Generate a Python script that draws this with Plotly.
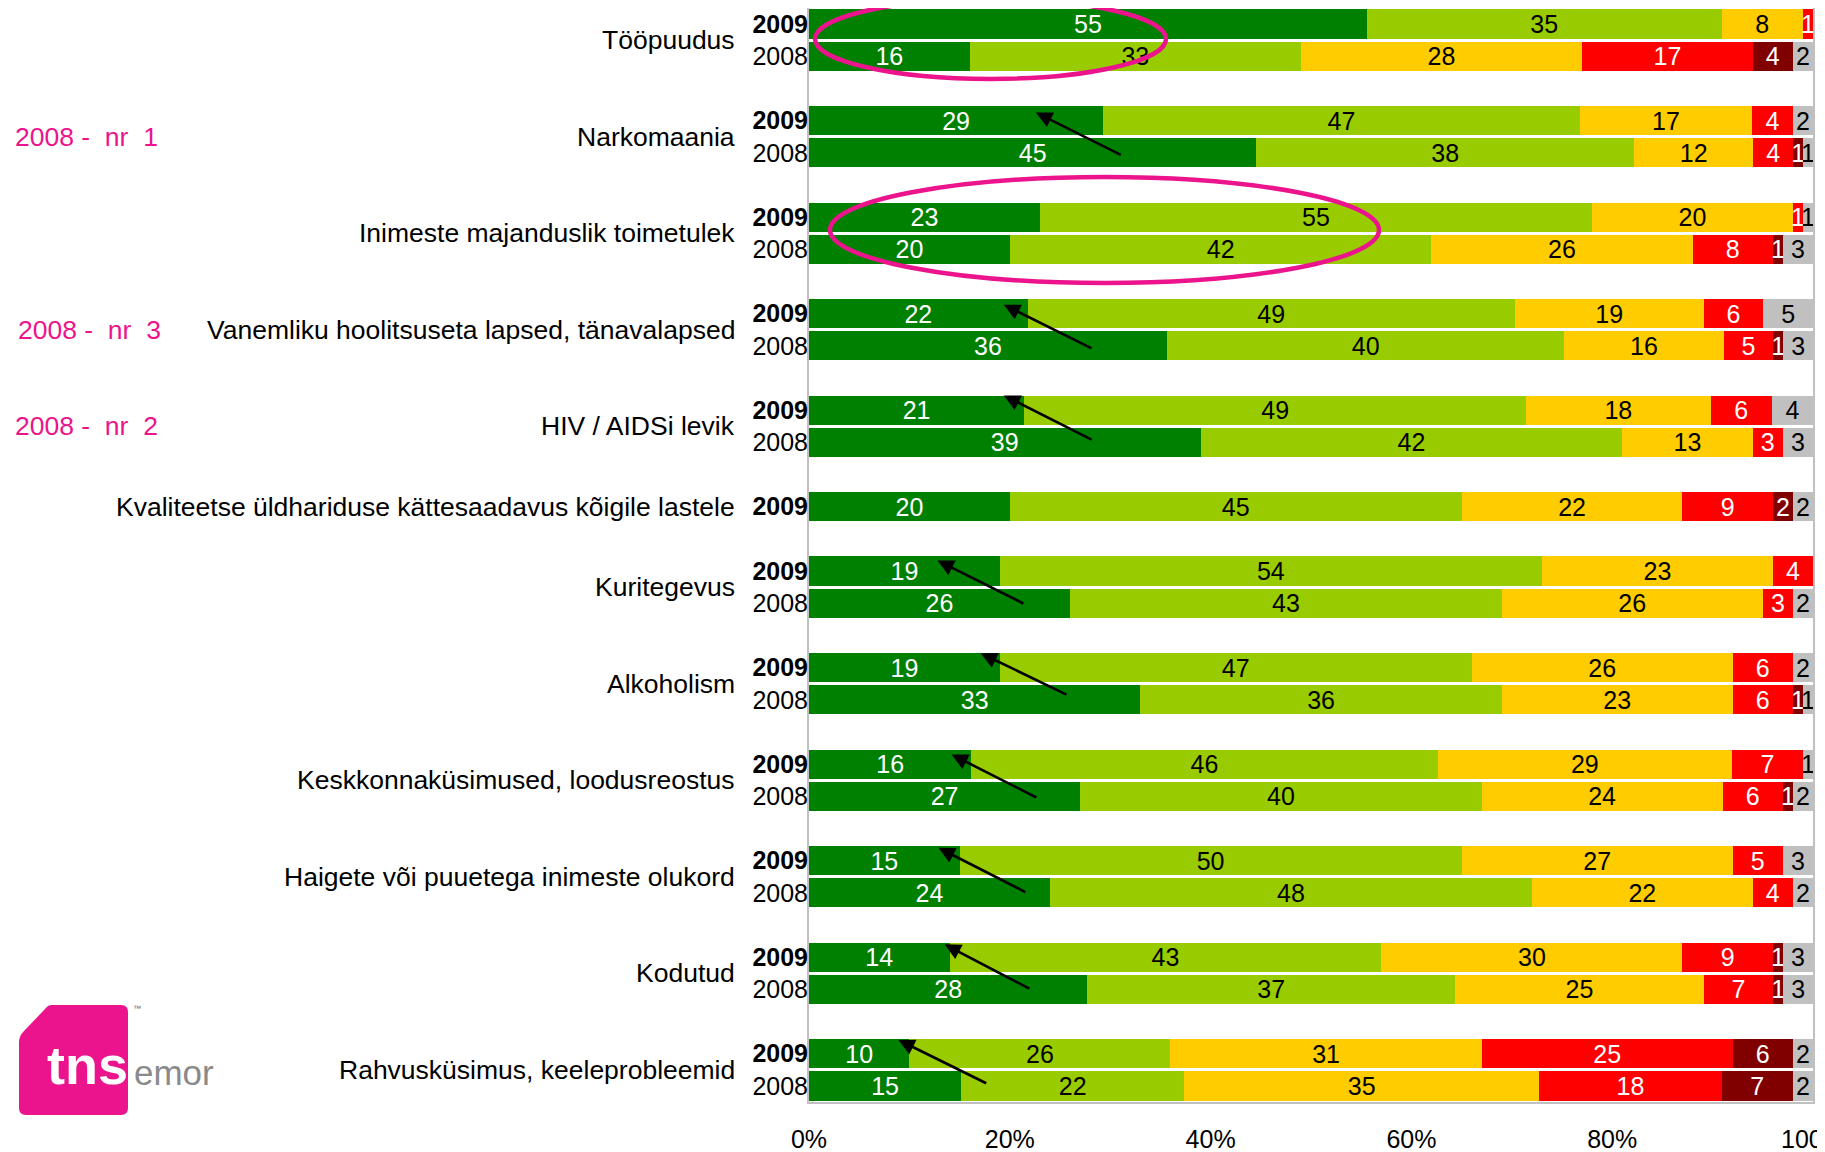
import plotly.graph_objects as go

# ---------------- data ----------------
categories = [
    "Tööpuudus",
    "Narkomaania",
    "Inimeste majanduslik toimetulek",
    "Vanemliku hoolitsuseta lapsed, tänavalapsed",
    "HIV / AIDSi levik",
    "Kvaliteetse üldhariduse kättesaadavus kõigile lastele",
    "Kuritegevus",
    "Alkoholism",
    "Keskkonnaküsimused, loodusreostus",
    "Haigete või puuetega inimeste olukord",
    "Kodutud",
    "Rahvusküsimus, keeleprobleemid",
]
years = [
    ["2009", "2008"], ["2009", "2008"], ["2009", "2008"], ["2009", "2008"],
    ["2009", "2008"], ["2009"], ["2009", "2008"], ["2009", "2008"],
    ["2009", "2008"], ["2009", "2008"], ["2009", "2008"], ["2009", "2008"],
]
# one value per bar, bars in top-to-bottom order
dark_green = [55, 16, 29, 45, 23, 20, 22, 36, 21, 39, 20, 19, 26, 19, 33, 16, 27, 15, 24, 14, 28, 10, 15]
light_green = [35, 33, 47, 38, 55, 42, 49, 40, 49, 42, 45, 54, 43, 47, 36, 46, 40, 50, 48, 43, 37, 26, 22]
yellow = [8, 28, 17, 12, 20, 26, 19, 16, 18, 13, 22, 23, 26, 26, 23, 29, 24, 27, 22, 30, 25, 31, 35]
red = [1, 17, 4, 4, 1, 8, 6, 5, 6, 3, 9, 4, 3, 6, 6, 7, 6, 5, 4, 9, 7, 25, 18]
dark_red = [0, 4, 0, 1, 0, 1, 0, 1, 0, 0, 2, 0, 0, 0, 1, 0, 1, 0, 0, 1, 1, 6, 7]
grey = [0, 2, 2, 1, 1, 3, 5, 3, 4, 3, 2, 0, 2, 2, 1, 1, 2, 3, 2, 3, 3, 2, 2]

tick_vals_x = [0, 20, 40, 60, 80, 100]
tick_text_x = ["0%", "20%", "40%", "60%", "80%", "100%"]

pink_notes = [(1, "2008 -  nr  1", 15), (3, "2008 -  nr  3", 18), (4, "2008 -  nr  2", 15)]

# arrows: (x_head %, row offset head from 2009 bar, x_tail %, row offset tail from 2008 bar), by category index
arrows = {
    1: (22.6, -0.25, 31.2, 0.09),
    3: (19.4, -0.28, 28.3, 0.10),
    4: (19.4, -0.46, 28.3, -0.06),
    6: (12.8, -0.33, 21.5, 0.03),
    7: (17.1, -0.45, 25.8, -0.14),
    8: (14.2, -0.30, 22.8, 0.06),
    9: (12.9, -0.40, 21.7, 0.00),
    10: (13.5, -0.40, 22.1, 0.00),
    11: (8.9, -0.43, 17.8, -0.06),
}

# ---------------- layout helpers ----------------
OFF = 8                      # page body margin
W, H = 1825 - OFF, 1152 - OFF
ML, MR, MT, MB = 809 - OFF, 12, 0, 50
PW, PH = W - ML - MR, H - MT - MB


def px(x):   # page pixel -> paper
    return (x - OFF - ML) / PW


def py(y):
    return 1 - (y - OFF - MT) / PH


rows, row_text, group_rows = [], [], []
r = 0
for cat, ys in zip(categories, years):
    g = []
    for yv in ys:
        rows.append(r)
        row_text.append("<b>2009</b>" if yv == "2009" else yv)
        g.append(r)
        r += 1
    group_rows.append(g)
    r += 1
last_row = rows[-1]

FONT = "Liberation Sans, Arial, sans-serif"
PINK = "#EC148C"

series = [
    (dark_green, "#008000", "white"),
    (light_green, "#99CC00", "black"),
    (yellow, "#FFCC00", "black"),
    (red, "#FF0000", "white"),
    (dark_red, "#800000", "white"),
    (grey, "#C0C0C0", "black"),
]

fig = go.Figure()
for vals, col, tcol in series:
    fig.add_trace(go.Bar(
        x=vals, y=rows, orientation="h",
        marker=dict(color=col, line=dict(width=0)),
        text=[str(v) if v else "" for v in vals],
        textposition="inside", insidetextanchor="middle", textangle=0,
        textfont=dict(color=tcol, size=25, family=FONT),
        hoverinfo="skip", showlegend=False,
    ))

annotations = []
for cat, g in zip(categories, group_rows):
    annotations.append(dict(
        text=cat, xref="paper", yref="y", x=px(737), y=sum(g) / len(g),
        xanchor="right", yanchor="middle", showarrow=False,
        font=dict(family=FONT, size=26.5, color="black")))

for ci, txt, xpx in pink_notes:
    g = group_rows[ci]
    annotations.append(dict(
        text=txt.replace(" ", "\u00a0"), xref="paper", yref="y", x=px(xpx - 2), y=sum(g) / len(g),
        xanchor="left", yanchor="middle", showarrow=False,
        font=dict(family=FONT, size=26.5, color=PINK)))

for ci, (xh, dh, xt, dt) in arrows.items():
    g = group_rows[ci]
    annotations.append(dict(
        text="", xref="x", yref="y", axref="x", ayref="y",
        x=xh, y=g[0] + dh, ax=xt, ay=g[1] + dt,
        showarrow=True, arrowhead=2, arrowsize=1.25, arrowwidth=2.6, arrowcolor="black"))

# logo
annotations.append(dict(text="<b>tns</b>", xref="paper", yref="paper", x=px(45), y=py(1065),
                        xanchor="left", yanchor="middle", showarrow=False,
                        font=dict(family=FONT, size=54, color="white")))
annotations.append(dict(text="emor", xref="paper", yref="paper", x=px(132), y=py(1072),
                        xanchor="left", yanchor="middle", showarrow=False,
                        font=dict(family=FONT, size=35, color="#8a8a8a")))
annotations.append(dict(text="™", xref="paper", yref="paper", x=px(131), y=py(1008),
                        xanchor="left", yanchor="middle", showarrow=False,
                        font=dict(family=FONT, size=8, color="#666")))


def path(points):
    s = ""
    for cmd, *coords in points:
        pts = " ".join(f"{px(coords[j]):.5f},{py(coords[j + 1]):.5f}" for j in range(0, len(coords), 2))
        s += f"{cmd} {pts} "
    return s + "Z"


logo_path = path([
    ("M", 52, 1005), ("L", 121, 1005), ("Q", 128, 1005, 128, 1012),
    ("L", 128, 1108), ("Q", 128, 1115, 121, 1115), ("L", 26, 1115),
    ("Q", 19, 1115, 19, 1108), ("L", 19, 1042), ("Q", 19, 1036, 24, 1031),
    ("L", 45, 1009), ("Q", 48, 1005, 52, 1005),
])

shapes = [
    dict(type="path", path=logo_path, xref="paper", yref="paper",
         fillcolor=PINK, line=dict(width=0), layer="below"),
    dict(type="circle", xref="paper", yref="paper",
         x0=px(815), x1=px(1166), y0=py(-1), y1=py(79),
         line=dict(color=PINK, width=4.5), layer="above"),
    dict(type="circle", xref="paper", yref="paper",
         x0=px(830), x1=px(1379), y0=py(177), y1=py(283),
         line=dict(color=PINK, width=4.5), layer="above"),
]

fig.update_layout(
    width=W, height=H,
    margin=dict(l=ML, r=MR, t=MT, b=MB, pad=0, autoexpand=False),
    barmode="stack", barnorm="percent", bargap=0.09,
    plot_bgcolor="white", paper_bgcolor="white",
    font=dict(family=FONT, size=25, color="black"),
    annotations=annotations, shapes=shapes,
    xaxis=dict(range=[0, 100], tickvals=tick_vals_x, ticktext=tick_text_x,
               showgrid=False, zeroline=False, ticks="", ticklabelstandoff=14,
               ticklabeloverflow="allow", automargin=False,
               showline=True, linecolor="#C0C0C0", linewidth=2, mirror=True,
               tickfont=dict(size=25, family=FONT, color="black"), fixedrange=True),
    yaxis=dict(range=[last_row + 0.5, -0.5], tickvals=rows, ticktext=row_text,
               showgrid=False, zeroline=False, ticks="", automargin=False,
               ticklabelstandoff=-6,
               showline=True, linecolor="#C0C0C0", linewidth=2, mirror=True,
               tickfont=dict(size=25, family=FONT, color="black"), fixedrange=True),
    uniformtext=dict(minsize=25, mode="show"),
)

fig.write_html("out.html")
